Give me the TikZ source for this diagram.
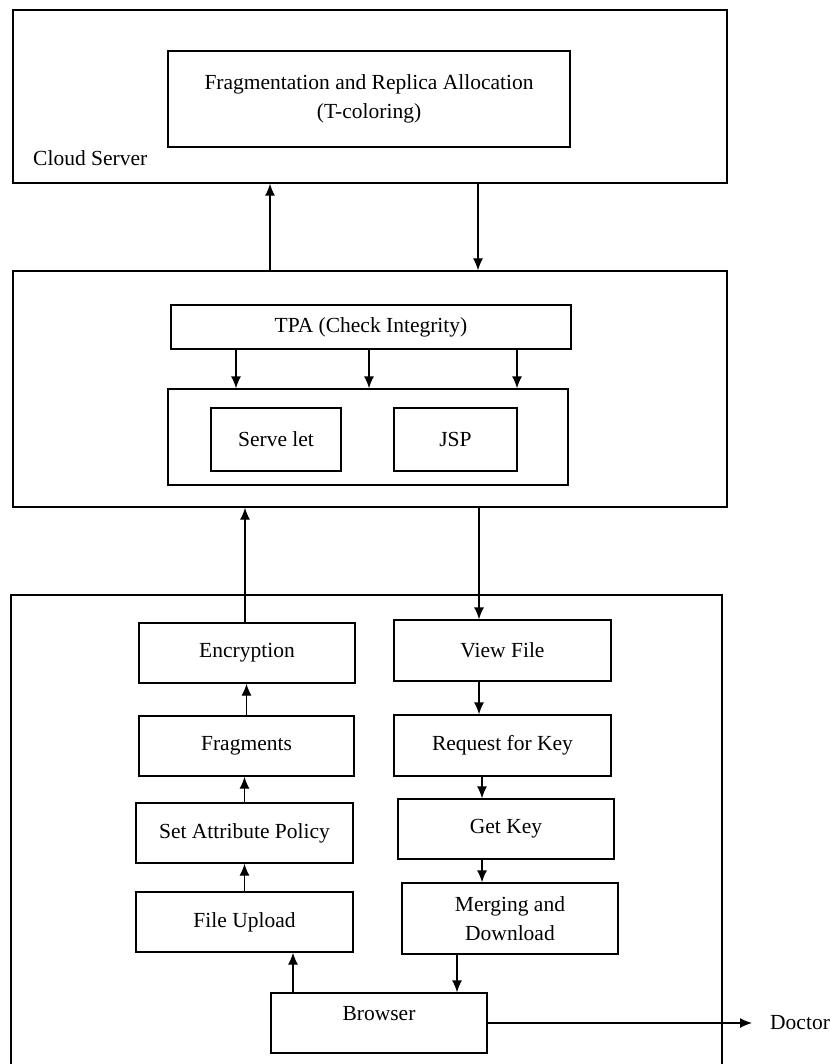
\documentclass[tikz,border=0pt]{standalone}
\usepackage{fontspec}
\setmainfont{Liberation Serif}
\usetikzlibrary{arrows.meta}
\tikzset{
	box/.style={draw, line width=1.3pt, inner sep=0pt, align=center, font=\fontsize{21.5}{29}\selectfont},
	lbl/.style={inner sep=0pt, font=\fontsize{21.5}{29}\selectfont},
	arr/.style={-{Latex[length=12pt,width=10pt]}, line width=1.3pt}
}
\begin{document}
\begin{tikzpicture}[x=1pt,y=-1pt]
	\useasboundingbox (0,0) rectangle (829,1064);

	% cloud server
	\node (cloud) [box, minimum width=714, minimum height=173] at (370,96.5) {};
	\node (frag) [box, minimum width=402, minimum height=96] at (369,99) {Fragmentation and Replica Allocation\\(T-coloring)};
	\node (lblcloud) [lbl, anchor=west] at (33,158) {Cloud Server};

	% application server
	\node (app) [box, minimum width=714, minimum height=236] at (370,389) {};
	\node (tpa) [box, minimum width=400, minimum height=44] at (371,327) {TPA (Check Integrity)};
	\node (web) [box, minimum width=400, minimum height=96] at (368,437) {};
	\node (servlet) [box, minimum width=130, minimum height=63] at (276,439.5) {Serve let};
	\node (jsp) [box, minimum width=123, minimum height=63] at (455.5,439.5) {JSP};

	% user side
	\draw[line width=1.3pt] (11,1064) -- (11,595) -- (722,595) -- (722,1064);
	\node (enc) [box, minimum width=216, minimum height=60] at (247,653) {Encryption};
	\node (frags) [box, minimum width=215, minimum height=60] at (246.5,746) {Fragments};
	\node (policy) [box, minimum width=217, minimum height=60] at (244.5,833) {Set Attribute Policy};
	\node (upload) [box, minimum width=217, minimum height=60] at (244.5,922) {File Upload};
	\node (view) [box, minimum width=217, minimum height=61] at (502.5,650.5) {View File};
	\node (req) [box, minimum width=217, minimum height=61] at (502.5,745.5) {Request for Key};
	\node (getkey) [box, minimum width=216, minimum height=60] at (506,829) {Get Key};
	\node (merge) [box, minimum width=216, minimum height=71] at (510,918.5) {Merging and\\Download};
	\node (browser) [box, minimum width=216, text height=27pt, text depth=33pt] at (379,1023) {Browser};
	\node (doctor) [lbl, anchor=west] at (770,1023) {Doctor};

	% cloud <-> app
	\draw[arr] ([xshift=-100pt]app.north) -- ([xshift=-100pt]cloud.south);
	\draw[arr] ([xshift=108pt]cloud.south) -- ([xshift=108pt]app.north);

	% tpa checks
	\draw[arr] ([xshift=-135pt]tpa.south) -- ([xshift=-135pt]tpa.south |- web.north);
	\draw[arr] ([xshift=-2pt]tpa.south) -- ([xshift=-2pt]tpa.south |- web.north);
	\draw[arr] ([xshift=146pt]tpa.south) -- ([xshift=146pt]tpa.south |- web.north);

	% upload path
	\draw[arr] ([xshift=-2pt]enc.north) -- ([xshift=-2pt]enc.north |- app.south);
	\draw[arr] (frags.north) -- (frags.north |- enc.south);
	\draw[arr] (policy.north) -- (policy.north |- frags.south);
	\draw[arr] (upload.north) -- (upload.north |- policy.south);
	\draw[arr] ([xshift=-86pt]browser.north) -- ([xshift=-86pt]browser.north |- upload.south);

	% download path
	\draw[arr] ([xshift=109pt]app.south) -- ([xshift=109pt]app.south |- view.north);
	\draw[arr] ([xshift=-23.5pt]view.south) -- ([xshift=-23.5pt]view.south |- req.north);
	\draw[arr] ([xshift=-20.5pt]req.south) -- ([xshift=-20.5pt]req.south |- getkey.north);
	\draw[arr] ([xshift=-24pt]getkey.south) -- ([xshift=-24pt]getkey.south |- merge.north);
	\draw[arr] ([xshift=-53pt]merge.south) -- ([xshift=-53pt]merge.south |- browser.north);

	% doctor
	\draw[arr] (browser.east) -- ([xshift=-18pt]doctor.west);

\end{tikzpicture}
\end{document}
